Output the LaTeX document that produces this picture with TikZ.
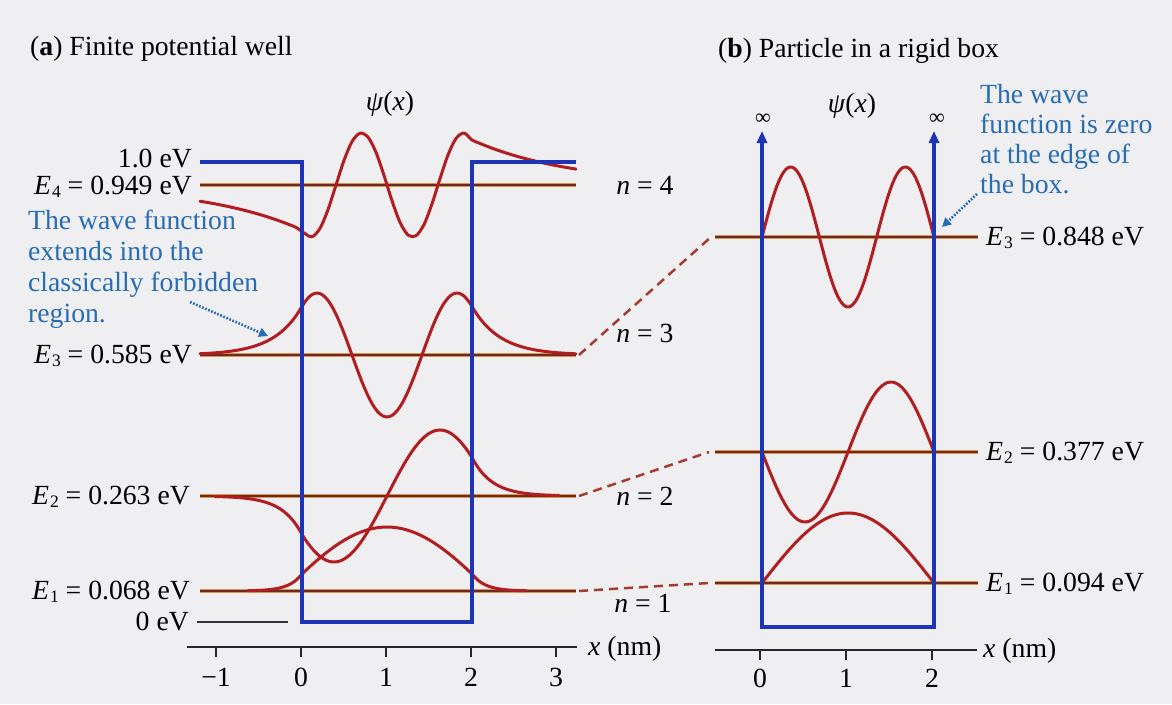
\documentclass[tikz,border=0pt]{standalone}
\usepackage{fontspec}
\setmainfont{Liberation Serif}
\usetikzlibrary{arrows.meta}
\definecolor{bgc}{RGB}{239,239,241}
\definecolor{wellblue}{RGB}{30,52,182}
\definecolor{wavered}{RGB}{176,30,34}
\definecolor{levdark}{RGB}{110,42,30}
\definecolor{levlight}{RGB}{215,150,85}
\definecolor{notec}{RGB}{40,108,178}
\definecolor{dashc}{RGB}{165,60,50}
\newcommand{\Elab}[2]{\textit{E}\kern0.04em\raisebox{-0.3ex}{\fontsize{17.5}{17.5}\selectfont #1} = #2}
\begin{document}
\begin{tikzpicture}[x=1pt,y=-1pt,
  declare function={
    ua(\x)=(abs(\x-387)<85.01) ? (64*cos(deg(0.0153*(\x-387)))) : (17.1*exp(-(abs(\x-387)-85)/13));
    ub(\x)=(abs(\x-387)<85.01) ? (66*sin(deg(0.02964*(\x-387)))) : (((\x>387) ? 1 : -1)*38.5*exp(-(abs(\x-387)-85)/20));
    uc(\x)=(abs(\x-387)<85.01) ? (-62*cos(deg(0.04488*(\x-387)))) : (48.5*exp(-(abs(\x-387)-85)/28));
    ud(\x)=(abs(\x-387)<85.01) ? (-52*sin(deg(0.0616*(\x-387)))) : (((\x>387) ? 1 : -1)*45*exp(-(abs(\x-387)-85)/100));
  },
  txt/.style={font=\fontsize{27.7}{31}\selectfont, inner sep=0pt},
  note/.style={txt, text=notec},
  inf/.style={font=\fontsize{22}{22}\selectfont, inner sep=0pt},
  well/.style={draw=wellblue, line width=3.1pt, line join=miter},
  wave/.style={draw=wavered, line width=3pt, line join=round, line cap=round},
  level/.style={draw=levdark, line width=2pt, preaction={draw=levlight, line width=3.1pt}},
  link/.style={draw=dashc, line width=2.5pt, dash pattern=on 9pt off 6pt},
  axisline/.style={draw=black!85, line width=1.5pt},
  pointer/.style={draw=notec, line width=2.6pt, dash pattern=on 1.7pt off 1.6pt, -{Triangle[length=9pt,width=9pt]}},
  boxarrow/.style={well, {Triangle[length=12pt,width=10pt]}-{Triangle[length=12pt,width=10pt]}},
]
\fill[bgc] (0,0) rectangle (1172,704);
\useasboundingbox (0,0) rectangle (1172,704);

% ---------- titles ----------
\node[txt, anchor=base west] (ta) at (30,55) {(\textbf{a}) Finite potential well};
\node[txt, anchor=base west] (tb) at (718,57) {(\textbf{b}) Particle in a rigid box};

% ---------- panel (a) ----------
\node[txt, anchor=base] (psia) at (390,110) {\textit{ψ}(\textit{x})};

% energy levels
\coordinate (L4s) at (200,185); \coordinate (L4e) at (576,185);
\coordinate (L3s) at (200,355); \coordinate (L3e) at (576,355);
\coordinate (L2s) at (200,496); \coordinate (L2e) at (576,496);
\coordinate (L1s) at (200,591); \coordinate (L1e) at (576,591);
\draw[level] (L4s) -- (L4e);
\draw[level] (L3s) -- (L3e);
\draw[level] (L2s) -- (L2e);
\draw[level] (L1s) -- (L1e);

% wave functions
\draw[wave] plot[domain=248:526, samples=70, smooth] (\x, {591-ua(\x)});
\draw[wave] plot[domain=215:559, samples=75, smooth] (\x, {496-ub(\x)});
\draw[wave] plot[domain=200:576, samples=75, smooth] (\x, {355-uc(\x)});
\draw[wave] plot[domain=200:576, samples=48, smooth] (\x, {185-ud(\x)});

% potential well
\draw[well] (200,162) -- (302,162) -- (302,622) -- (472,622) -- (472,162) -- (576,162);
\draw[black!80, line width=1.5pt] (197,622) -- (288,622);

% level labels
\node[txt, anchor=base east] (v10) at (192,167) {1.0 eV};
\node[txt, anchor=base east] (e4) at (192,194) {\Elab{4}{0.949 eV}};
\node[txt, anchor=base east] (e3) at (192,363) {\Elab{3}{0.585 eV}};
\node[txt, anchor=base east] (e2) at (190,504) {\Elab{2}{0.263 eV}};
\node[txt, anchor=base east] (e1) at (190,599) {\Elab{1}{0.068 eV}};
\node[txt, anchor=base east] (v0) at (189,630) {0 eV};

% axis
\draw[axisline] (187,647) -- (577,647);
\foreach \t/\l [count=\i] in {216/−1, 301/0, 386/1, 471/2, 556/3} {
  \draw[axisline] (\t,646) -- (\t,657);
  \node[txt, anchor=base] (tka\i) at (\t,686) {\l};
}
\node[txt, anchor=base west] (xa) at (588,655) {\textit{x} (nm)};

% annotation (a)
\node[note, anchor=base west] (na1) at (28,229) {The wave function};
\node[note, anchor=base west] (na2) at (28,260) {extends into the};
\node[note, anchor=base west] (na3) at (28,291) {classically forbidden};
\node[note, anchor=base west] (na4) at (28,322) {region.};
\coordinate (pa) at (268,336);
\draw[pointer] (190,302) -- (pa);

% ---------- n labels and links ----------
\node[txt, anchor=base] (n4) at (645,194) {\textit{n} = 4};
\node[txt, anchor=base] (n3) at (645,342) {\textit{n} = 3};
\node[txt, anchor=base] (n2) at (645,505) {\textit{n} = 2};
\node[txt, anchor=base] (n1) at (643,612) {\textit{n} = 1};

\coordinate (R3s) at (715,237); \coordinate (R3e) at (978,237);
\coordinate (R2s) at (715,452); \coordinate (R2e) at (978,452);
\coordinate (R1s) at (715,583); \coordinate (R1e) at (978,583);

\draw[link] ([xshift=3pt]L3e) -- ([xshift=-4pt]R3s);
\draw[link] ([xshift=3pt]L2e) -- ([xshift=-6pt]R2s);
\draw[link] ([xshift=3pt]L1e) -- ([xshift=-6pt]R1s);

% ---------- panel (b) ----------
\node[txt, anchor=base] (psib) at (852,112) {\textit{ψ}(\textit{x})};
\node[inf] (infl) at (763,119) {∞};
\node[inf] (infr) at (937,119) {∞};

\draw[level] (R3s) -- (R3e);
\draw[level] (R2s) -- (R2e);
\draw[level] (R1s) -- (R1e);

\draw[wave] plot[domain=762:934, samples=90, smooth] (\x, {583-70*sin(1.046512*(\x-762))});
\draw[wave] plot[domain=762:934, samples=90, smooth] (\x, {452+70*sin(2.093023*(\x-762))});
\draw[wave] plot[domain=762:934, samples=110, smooth] (\x, {237-70*sin(3.139535*(\x-762))});

\draw[boxarrow] (762,131) -- (762,627) -- (934,627) -- (934,131);

\node[txt, anchor=base west] (f3) at (986,245) {\Elab{3}{0.848 eV}};
\node[txt, anchor=base west] (f2) at (986,460) {\Elab{2}{0.377 eV}};
\node[txt, anchor=base west] (f1) at (986,591) {\Elab{1}{0.094 eV}};

\draw[axisline] (715,650) -- (977,650);
\foreach \t/\l [count=\i] in {760/0, 846/1, 932/2} {
  \draw[axisline] (\t,649) -- (\t,660);
  \node[txt, anchor=base] (tkb\i) at (\t,687) {\l};
}
\node[txt, anchor=base west] (xb) at (983,657) {\textit{x} (nm)};

% annotation (b)
\node[note, anchor=base west] (nb1) at (980,103) {The wave};
\node[note, anchor=base west] (nb2) at (980,133) {function is zero};
\node[note, anchor=base west] (nb3) at (980,163) {at the edge of};
\node[note, anchor=base west] (nb4) at (980,193) {the box.};
\coordinate (pb) at (942,227);
\draw[pointer] (977,194) -- (pb);
\end{tikzpicture}
\end{document}
